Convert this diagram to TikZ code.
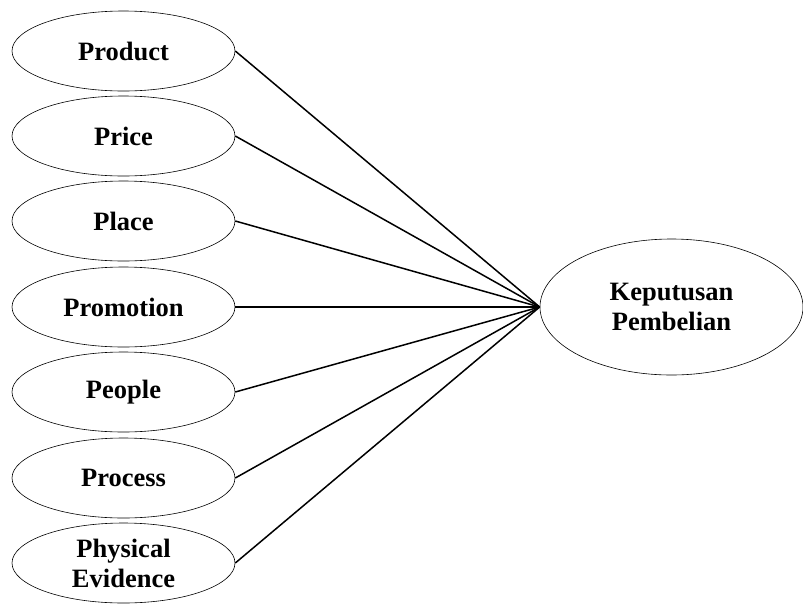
\documentclass[tikz,border=0pt]{standalone}
\usepackage{fontspec}
\setmainfont{Liberation Serif}
\usetikzlibrary{shapes.geometric}
\begin{document}
\begin{tikzpicture}[x=1pt,y=-1pt,
  faktor/.style={draw,ellipse,line width=0.6pt,minimum width=223pt,minimum height=80pt,inner sep=0pt,align=center,font=\bfseries\fontsize{26.5}{30}\selectfont},
  hasil/.style={faktor,minimum width=263pt,minimum height=136pt},
  garis/.style={line width=1.5pt}]
\useasboundingbox (0,0) rectangle (803,603);
% variabel bebas
\foreach \y/\name/\teks in {51/prod/Product,136/price/Price,221/place/Place,307/promo/Promotion,392/people/People,478/proc/Process,563/phys/{Physical\\Evidence}} {
  \node[faktor] (\name) at (123.5,\y) {\teks};
}
% variabel terikat
\node[hasil] (kp) at (671.5,307) {Keputusan\\Pembelian};
\foreach \name in {prod,price,place,promo,people,proc,phys} {
  \draw[garis] (\name.east) -- (kp.west);
}
\end{tikzpicture}
\end{document}
